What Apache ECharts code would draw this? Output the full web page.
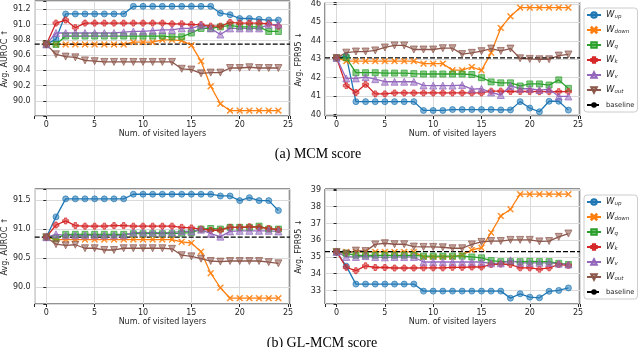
<!DOCTYPE html>
<html>
<head>
<meta charset="utf-8">
<script src="https://cdn.jsdelivr.net/npm/echarts@6/dist/echarts.min.js"></script>
<style>
  html, body { margin: 0; padding: 0; background: #fff; }
  #main { width: 640px; height: 347px; }
</style>
</head>
<body>
<div id="main"></div>
<script>
// layers visited (x)
const layers = [0, 1, 2, 3, 4, 5, 6, 7, 8, 9, 10, 11, 12, 13, 14, 15, 16, 17, 18, 19, 20, 21, 22, 23, 24];
const seriesNames = ['W_up', 'W_down', 'W_q', 'W_k', 'W_v', 'W_out'];

// (a) MCM score - AUROC
const mcmAurocUp   = [90.74, 90.81, 91.14, 91.14, 91.14, 91.14, 91.14, 91.14, 91.14, 91.24, 91.24, 91.24, 91.24, 91.24, 91.24, 91.24, 91.24, 91.24, 91.15, 91.13, 91.08, 91.08, 91.07, 91.06, 91.06];
const mcmAurocDown = [90.74, 90.74, 90.74, 90.74, 90.74, 90.74, 90.74, 90.74, 90.74, 90.77, 90.77, 90.77, 90.80, 90.80, 90.79, 90.73, 90.52, 90.19, 89.96, 89.87, 89.87, 89.87, 89.87, 89.87, 89.87];
const mcmAurocQ    = [90.74, 90.74, 90.85, 90.85, 90.85, 90.85, 90.85, 90.85, 90.85, 90.85, 90.85, 90.85, 90.85, 90.84, 90.84, 90.89, 90.95, 90.95, 90.97, 90.99, 90.97, 90.97, 90.97, 90.91, 90.91];
const mcmAurocK    = [90.74, 91.02, 91.06, 90.96, 91.02, 91.02, 91.02, 91.02, 91.02, 91.02, 91.02, 91.02, 91.02, 91.01, 91.01, 91.00, 91.00, 90.98, 90.98, 91.03, 91.02, 91.02, 91.02, 91.01, 90.98];
const mcmAurocV    = [90.74, 90.89, 90.89, 90.89, 90.89, 90.89, 90.89, 90.89, 90.90, 90.91, 90.91, 90.92, 90.93, 90.93, 90.95, 90.95, 90.99, 90.95, 90.87, 90.95, 90.95, 90.95, 90.95, 91.00, 91.00];
const mcmAurocOut  = [90.74, 90.61, 90.58, 90.57, 90.53, 90.52, 90.51, 90.51, 90.51, 90.51, 90.51, 90.51, 90.51, 90.51, 90.42, 90.41, 90.36, 90.37, 90.37, 90.43, 90.43, 90.44, 90.43, 90.43, 90.43];
const mcmAurocBase = 90.745;

// (a) MCM score - FPR95
const mcmFprUp   = [43.07, 43.17, 40.70, 40.70, 40.70, 40.70, 40.70, 40.70, 40.70, 40.22, 40.22, 40.22, 40.27, 40.27, 40.27, 40.27, 40.27, 40.25, 40.25, 40.70, 40.35, 40.15, 40.72, 40.72, 40.24];
const mcmFprDown = [43.07, 42.90, 42.90, 42.90, 42.90, 42.90, 42.90, 42.90, 42.90, 42.76, 42.76, 42.76, 42.41, 42.41, 42.58, 42.40, 43.35, 44.70, 45.33, 45.80, 45.80, 45.80, 45.80, 45.80, 45.80];
const mcmFprQ    = [43.07, 43.08, 42.27, 42.27, 42.27, 42.25, 42.25, 42.25, 42.22, 42.20, 42.20, 42.20, 42.20, 42.20, 42.17, 42.00, 41.77, 41.72, 41.72, 41.55, 41.66, 41.66, 41.60, 41.88, 41.42];
const mcmFprK    = [43.07, 41.57, 41.19, 41.64, 41.12, 41.12, 41.17, 41.17, 41.17, 41.17, 41.17, 41.17, 41.17, 41.17, 41.17, 41.17, 41.27, 41.27, 41.25, 41.25, 41.25, 41.24, 41.24, 41.24, 41.24];
const mcmFprV    = [43.07, 41.96, 41.96, 42.03, 41.92, 41.78, 41.78, 41.78, 41.78, 41.58, 41.57, 41.57, 41.57, 41.60, 41.38, 41.40, 41.20, 41.06, 41.55, 41.40, 41.40, 41.33, 41.38, 40.98, 40.98];
const mcmFprOut  = [43.07, 43.36, 43.42, 43.42, 43.48, 43.64, 43.75, 43.75, 43.53, 43.53, 43.53, 43.60, 43.60, 43.28, 43.35, 43.44, 43.58, 43.45, 43.58, 43.05, 43.02, 43.00, 43.00, 43.20, 43.26];
const mcmFprBase = 43.08;

// (b) GL-MCM score - AUROC
const glAurocUp   = [90.86, 91.21, 91.52, 91.52, 91.52, 91.52, 91.52, 91.52, 91.52, 91.60, 91.60, 91.60, 91.60, 91.60, 91.60, 91.60, 91.60, 91.60, 91.57, 91.57, 91.49, 91.54, 91.49, 91.49, 91.32];
const glAurocDown = [90.86, 90.82, 90.82, 90.82, 90.82, 90.82, 90.82, 90.82, 90.82, 90.82, 90.82, 90.82, 90.82, 90.82, 90.78, 90.76, 90.61, 90.24, 89.99, 89.81, 89.81, 89.81, 89.81, 89.81, 89.81];
const glAurocQ    = [90.86, 90.84, 90.91, 90.91, 90.91, 90.91, 90.91, 90.91, 90.91, 90.92, 90.92, 90.92, 90.92, 90.92, 90.93, 90.94, 91.00, 91.01, 91.00, 91.03, 91.03, 91.03, 91.05, 91.00, 91.00];
const glAurocK    = [90.86, 91.07, 91.14, 91.06, 91.05, 91.05, 91.05, 91.06, 91.06, 91.05, 91.05, 91.05, 91.05, 91.05, 91.03, 91.02, 91.00, 90.98, 90.98, 91.03, 91.03, 91.04, 91.03, 91.01, 90.99];
const glAurocV    = [90.86, 90.91, 90.89, 90.89, 90.89, 90.89, 90.89, 90.89, 90.89, 90.94, 90.94, 90.94, 90.94, 90.94, 90.96, 90.96, 90.99, 90.92, 90.87, 90.96, 90.97, 90.97, 90.97, 90.97, 90.96];
const glAurocOut  = [90.86, 90.74, 90.72, 90.73, 90.67, 90.67, 90.64, 90.64, 90.67, 90.67, 90.67, 90.67, 90.67, 90.66, 90.55, 90.53, 90.49, 90.45, 90.44, 90.45, 90.45, 90.45, 90.45, 90.43, 90.41];
const glAurocBase = 90.86;

// (b) GL-MCM score - FPR95
const glFprUp   = [35.30, 34.45, 33.38, 33.38, 33.38, 33.38, 33.38, 33.38, 33.38, 32.96, 32.96, 32.96, 32.96, 32.96, 32.96, 32.96, 32.96, 32.96, 32.54, 32.80, 32.60, 32.56, 32.95, 33.00, 33.15];
const glFprDown = [35.30, 35.30, 35.30, 35.30, 35.30, 35.30, 35.30, 35.30, 35.30, 35.00, 35.00, 35.00, 35.00, 35.12, 35.42, 35.55, 36.45, 37.45, 37.85, 38.75, 38.75, 38.75, 38.75, 38.75, 38.75];
const glFprQ    = [35.30, 35.22, 35.10, 35.10, 35.10, 35.10, 35.10, 35.10, 35.10, 35.05, 35.05, 35.05, 35.05, 35.05, 35.00, 34.95, 34.78, 34.72, 34.72, 34.72, 34.74, 34.72, 34.72, 34.62, 34.55];
const glFprK    = [35.30, 34.38, 34.18, 34.47, 34.37, 34.37, 34.34, 34.34, 34.34, 34.35, 34.35, 34.35, 34.38, 34.38, 34.40, 34.40, 34.55, 34.58, 34.55, 34.35, 34.35, 34.27, 34.35, 34.55, 34.50];
const glFprV    = [35.30, 35.00, 35.00, 35.05, 35.00, 34.98, 35.00, 35.00, 35.00, 34.70, 34.70, 34.70, 34.70, 34.70, 34.70, 34.70, 34.62, 34.62, 34.80, 34.65, 34.65, 34.65, 34.65, 34.60, 34.55];
const glFprOut  = [35.30, 35.20, 35.38, 35.35, 35.75, 35.82, 35.76, 35.76, 35.62, 35.60, 35.60, 35.58, 35.52, 35.52, 35.75, 35.90, 35.95, 35.95, 36.02, 36.02, 36.02, 35.93, 35.95, 36.20, 36.40];
const glFprBase = 35.32;

// tick labels
const xTicks = [0, 5, 10, 15, 20, 25];
const mcmAurocTicks = [90.0, 90.2, 90.4, 90.6, 90.8, 91.0, 91.2];
const mcmFprTicks = [40, 41, 42, 43, 44, 45, 46];
const glAurocTicks = [90.0, 90.5, 91.0, 91.5];
const glFprTicks = [33, 34, 35, 36, 37, 38, 39];

const panels = [
    {data: [mcmAurocUp, mcmAurocDown, mcmAurocQ, mcmAurocK, mcmAurocV, mcmAurocOut], base: mcmAurocBase,
     ticks: mcmAurocTicks, digits: 1, min: 89.8, max: 91.31, split: 7, name: 'Avg. AUROC ↑',
     left: 31, top: 1, width: 259},
    {data: [mcmFprUp, mcmFprDown, mcmFprQ, mcmFprK, mcmFprV, mcmFprOut], base: mcmFprBase,
     ticks: mcmFprTicks, digits: 0, min: 39.92, max: 46.08, split: 6, name: 'Avg. FPR95 ↓',
     left: 325, top: 1, width: 255},
    {data: [glAurocUp, glAurocDown, glAurocQ, glAurocK, glAurocV, glAurocOut], base: glAurocBase,
     ticks: glAurocTicks, digits: 1, min: 89.71, max: 91.69, split: 4, name: 'Avg. AUROC ↑',
     left: 31, top: 189, width: 259},
    {data: [glFprUp, glFprDown, glFprQ, glFprK, glFprV, glFprOut], base: glFprBase,
     ticks: glFprTicks, digits: 0, min: 32.19, max: 39.06, split: 6, name: 'Avg. FPR95 ↓',
     left: 325, top: 189, width: 255}
];

const colors = ['#1f77b4', '#ff7f0e', '#2ca02c', '#d62728', '#9467bd', '#8c564b'];
const fills = ['rgba(31,119,180,0.55)', 'rgba(255,127,14,0.8)', 'rgba(44,160,44,0.55)',
               'rgba(214,39,40,0.55)', 'rgba(148,103,189,0.55)', 'rgba(140,86,75,0.55)'];
const symbols = [
    'circle',
    'path://M0,1 L1,0 L5,4 L9,0 L10,1 L6,5 L10,9 L9,10 L5,6 L1,10 L0,9 L4,5 Z',
    'rect',
    'path://M3,0 L7,0 L7,3 L10,3 L10,7 L7,7 L7,10 L3,10 L3,7 L0,7 L0,3 L3,3 Z',
    'triangle',
    'path://M0,0 L10,0 L5,9 Z'
];
const sizes = [6, 6, 6, 6, 7, 7];
const ink = '#262626';
const font = 'DejaVu Sans';

const pick = (ticks, d) => v => ticks.some(t => Math.abs(t - v) < 1e-6) ? v.toFixed(d) : '';

const grids = [], xAxes = [], yAxes = [], series = [];
panels.forEach((p, i) => {
    grids.push({left: p.left, top: p.top, width: p.width, height: 115, show: true,
        borderColor: ink, borderWidth: 1, backgroundColor: 'transparent'});
    xAxes.push({
        type: 'value', gridIndex: i, min: -1.2, max: 25.2, splitNumber: 5,
        name: 'Num. of visited layers', nameLocation: 'middle', nameGap: 14,
        nameTextStyle: {fontSize: 8, color: ink, fontFamily: font},
        axisLine: {show: false},
        axisTick: {show: true, length: 3, lineStyle: {color: ink}},
        axisLabel: {fontSize: 8, color: ink, margin: 5, fontFamily: font, formatter: pick(xTicks, 0)},
        splitLine: {show: true, lineStyle: {color: '#dadada', width: 1}}
    });
    yAxes.push({
        type: 'value', gridIndex: i, min: p.min, max: p.max, splitNumber: p.split,
        name: p.name, nameLocation: 'middle', nameGap: 22, nameRotate: 90,
        nameTextStyle: {fontSize: 8, color: ink, fontFamily: font},
        axisLine: {show: false},
        axisTick: {show: true, length: 3, lineStyle: {color: ink}},
        axisLabel: {fontSize: 8, color: ink, margin: 4, fontFamily: font, formatter: pick(p.ticks, p.digits)},
        splitLine: {show: true, lineStyle: {color: '#dadada', width: 1}}
    });
    p.data.forEach((vals, k) => {
        series.push({
            name: seriesNames[k], type: 'line', xAxisIndex: i, yAxisIndex: i,
            data: layers.map((x, j) => [x, vals[j]]),
            symbol: symbols[k], symbolSize: sizes[k], showSymbol: true,
            lineStyle: {color: colors[k], width: 1.3},
            itemStyle: {color: fills[k], borderColor: colors[k], borderWidth: 0.7},
            emphasis: {disabled: true}
        });
    });
    series.push({
        name: 'baseline', type: 'line', xAxisIndex: i, yAxisIndex: i,
        data: [[-1.2, p.base], [25.2, p.base]],
        symbol: 'none', lineStyle: {color: '#000', width: 1.3, type: [5, 2]},
        itemStyle: {color: '#000'}, emphasis: {disabled: true}
    });
});

const legendFmt = name => {
    const parts = name.split('_');
    return parts.length > 1 ? `{m|${parts[0]}}{s|${parts[1]}}` : `{b|${name}}`;
};
const legendStyle = {
    fontFamily: font, color: ink, fontSize: 6.5, lineHeight: 10,
    rich: {
        m: {fontSize: 8.5, fontStyle: 'italic', fontFamily: font, color: ink, lineHeight: 10},
        s: {fontSize: 5.5, fontStyle: 'italic', fontFamily: font, color: ink, verticalAlign: 'bottom', lineHeight: 10},
        b: {fontSize: 6.8, fontFamily: font, color: ink, lineHeight: 10}
    }
};
const legendBase = {
    orient: 'vertical', left: 584, itemWidth: 14, itemHeight: 7, itemGap: 5,
    padding: [2, 3, 2, 2], backgroundColor: '#fff', borderColor: '#cccccc', borderWidth: 1,
    borderRadius: 3, data: [...seriesNames, 'baseline'], formatter: legendFmt, textStyle: legendStyle,
    selectedMode: false
};

const chart = echarts.init(document.getElementById('main'));
chart.setOption({
    animation: false,
    backgroundColor: '#fff',
    title: [
        {text: '(a) MCM score', left: 318, top: 147, textAlign: 'center', padding: 0,
         textStyle: {fontFamily: 'Liberation Serif', fontSize: 14, fontWeight: 'normal', color: '#000'}},
        {text: '(b) GL-MCM score', left: 322, top: 336, textAlign: 'center', padding: 0,
         textStyle: {fontFamily: 'Liberation Serif', fontSize: 14, fontWeight: 'normal', color: '#000'}}
    ],
    legend: [
        Object.assign({}, legendBase, {top: 8}),
        Object.assign({}, legendBase, {top: 195})
    ],
    grid: grids,
    xAxis: xAxes,
    yAxis: yAxes,
    series: series
});
</script>
</body>
</html>
